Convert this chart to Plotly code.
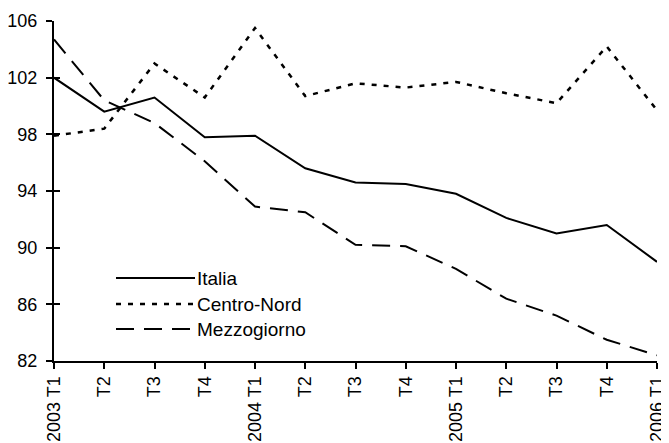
import plotly.graph_objects as go

categories = ["2003 T1", "T2", "T3", "T4", "2004 T1", "T2", "T3", "T4",
              "2005 T1", "T2", "T3", "T4", "2006 T1"]
italia = [102.0, 99.6, 100.6, 97.8, 97.9, 95.6, 94.6, 94.5, 93.8, 92.1, 91.0, 91.6, 89.0]
centro_nord = [97.9, 98.4, 103.0, 100.6, 105.5, 100.7, 101.6, 101.3, 101.7, 100.9, 100.2, 104.2, 99.7]
mezzogiorno = [104.7, 100.4, 98.8, 96.1, 92.9, 92.5, 90.2, 90.1, 88.5, 86.4, 85.2, 83.5, 82.4]
series_names = ["Italia", "Centro-Nord", "Mezzogiorno"]
y_ticks = [82, 86, 90, 94, 98, 102, 106]

dashes = ["solid", "5px,7px", "18px,10px"]
widths = [2, 2.5, 2]

xs = list(range(len(categories)))
fig = go.Figure()
for name, vals, d, w in zip(series_names, [italia, centro_nord, mezzogiorno], dashes, widths):
    fig.add_trace(go.Scatter(x=xs, y=vals, mode="lines", name=name,
                             line=dict(color="black", width=w, dash=d),
                             showlegend=False))

# invisible trace for inner y ticks
fig.add_trace(go.Scatter(x=[0], y=[94], yaxis="y2", mode="markers",
                         marker=dict(opacity=0), showlegend=False, hoverinfo="skip"))

font = "Liberation Sans, Arial, sans-serif"
L, R = 54, 657  # plot area in page pixels
# page body has an 8px margin, so the figure is 8px shorter/narrower
fig.update_layout(
    width=661, height=435,
    margin=dict(l=L - 8, r=669 - R, t=13, b=82, autoexpand=False),
    paper_bgcolor="white", plot_bgcolor="white",
    font=dict(family=font, size=18, color="black"),
    xaxis=dict(range=[0, len(categories) - 1], tickmode="array", tickvals=xs,
               ticktext=categories, tickangle=-90, ticklabeloverflow="allow",
               showgrid=False, zeroline=False, showline=True, linecolor="black",
               linewidth=2, ticks="outside", ticklen=6, tickwidth=2,
               tickcolor="black", tickfont=dict(size=18)),
    yaxis=dict(range=[82, 106], tickmode="array", tickvals=y_ticks,
               showgrid=False, zeroline=False, showline=True, linecolor="black",
               linewidth=2, ticks="outside", ticklen=6, tickwidth=2,
               ticklabelstandoff=5, ticklabeloverflow="allow",
               tickcolor="black", tickfont=dict(size=18)),
    yaxis2=dict(range=[82, 106], overlaying="y", side="left", tickmode="array",
                tickvals=y_ticks, showticklabels=False, showgrid=False,
                zeroline=False, showline=False, ticks="inside", ticklen=6,
                tickwidth=2, tickcolor="black"),
)

# manual legend (page pixel positions converted to paper coords)
legend_y = [278, 304, 329]
W = R - L
for name, d, w, py in zip(series_names, dashes, widths, legend_y):
    yp = (361 - py) / 340
    fig.add_shape(type="line", xref="paper", yref="paper",
                  x0=(116 - L) / W, x1=(195 - L) / W, y0=yp, y1=yp,
                  line=dict(color="black", width=w, dash=d))
    fig.add_annotation(xref="paper", yref="paper", x=(195 - L) / W, y=yp,
                       text=name, showarrow=False, xanchor="left", yanchor="middle",
                       font=dict(size=19, color="black", family=font))

fig.write_html("out.html")
